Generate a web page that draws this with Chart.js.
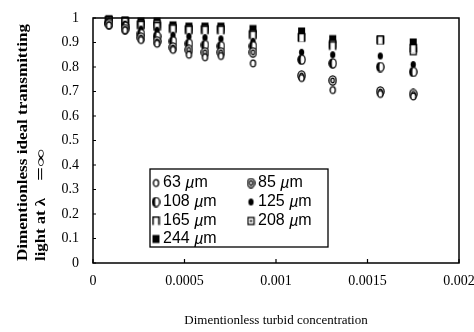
<!doctype html>
<html lang="en">
  <head>
    <meta charset="utf-8">
    <style>
      * { margin: 0; padding: 0; }
      body { background: #fff; }
      canvas { display: block; }
    </style>
  </head>
  <body>
    <canvas id="myChart" width="474" height="332"></canvas>
    <script src="https://cdn.jsdelivr.net/npm/chart.js/dist/chart.umd.min.js"></script>
    <script>
    // data
    const conc = [0.0000874, 0.000175, 0.000262, 0.00035, 0.000437, 0.000524, 0.000612,
                  0.000699, 0.000874, 0.00114, 0.00131, 0.00157, 0.00175];
    const s63  = [0.970, 0.950, 0.910, 0.895, 0.870, 0.850, 0.840, 0.845, 0.815, 0.755, 0.706, 0.690, 0.680];
    const s85  = [0.975, 0.955, 0.920, 0.905, 0.880, 0.870, 0.860, 0.860, 0.860, 0.765, 0.745, 0.700, 0.690];
    const s108 = [0.980, 0.965, 0.935, 0.925, 0.905, 0.895, 0.890, 0.885, 0.885, 0.830, 0.815, 0.800, 0.780];
    const s125 = [0.985, 0.975, 0.955, 0.950, 0.930, 0.925, 0.920, 0.915, 0.905, 0.860, 0.850, 0.845, 0.810];
    const s165 = [0.990, 0.985, 0.970, 0.965, 0.955, 0.950, 0.950, 0.950, 0.930, 0.920, 0.886, 0.910, 0.875];
    const s208 = [0.990, 0.985, 0.975, 0.975, 0.960, 0.955, 0.955, 0.955, 0.935, 0.920, 0.894, 0.910, 0.865];
    const s244 = [0.995, 0.990, 0.985, 0.985, 0.970, 0.965, 0.965, 0.965, 0.955, 0.945, 0.914, 0.910, 0.900];
    const sizes = ['63', '85', '108', '125', '165', '208', '244'];
    const series = [s63, s85, s108, s125, s165, s208, s244];
    const shapes = ['ring', 'target', 'half', 'dot', 'cap', 'boxdot', 'box'];

    // little marker images
    function makeMarker(kind) {
      const c = document.createElement('canvas');
      c.width = 9; c.height = 11;
      const g = c.getContext('2d');
      g.strokeStyle = '#000'; g.fillStyle = '#000'; g.lineWidth = 1.3;
      const cx = 4.5, cy = 5.5;
      if (kind === 'ring') {
        g.beginPath(); g.ellipse(cx, cy, 2.6, 3.4, 0, 0, Math.PI * 2);
        g.fillStyle = '#fff'; g.fill(); g.stroke();
      } else if (kind === 'target') {
        g.beginPath(); g.ellipse(cx, cy, 3.6, 4.6, 0, 0, Math.PI * 2);
        g.fillStyle = '#fff'; g.fill(); g.stroke();
        g.beginPath(); g.ellipse(cx, cy, 1.6, 2.3, 0, 0, Math.PI * 2); g.stroke();
      } else if (kind === 'half') {
        g.beginPath(); g.ellipse(cx, cy, 3.6, 4.6, 0, 0, Math.PI * 2);
        g.fillStyle = '#fff'; g.fill(); g.stroke();
        g.fillStyle = '#000';
        g.beginPath(); g.ellipse(cx, cy, 3.6, 4.6, 0, Math.PI * 0.5, Math.PI * 1.5);
        g.ellipse(cx + 0.5, cy, 1.4, 4.6, 0, Math.PI * 1.5, Math.PI * 0.5, true);
        g.fill();
      } else if (kind === 'dot') {
        g.beginPath(); g.ellipse(cx, cy, 2.6, 3.6, 0, 0, Math.PI * 2); g.fill();
      } else if (kind === 'cap') {
        g.fillStyle = '#fff'; g.fillRect(1.5, 1.5, 6, 8);
        g.beginPath(); g.moveTo(1.5, 9.5); g.lineTo(1.5, 1.5); g.lineTo(7.5, 1.5); g.lineTo(7.5, 9.5);
        g.lineWidth = 1.6; g.stroke();
      } else if (kind === 'boxdot') {
        g.fillStyle = '#fff'; g.fillRect(1.5, 2, 6, 7);
        g.strokeRect(1.5, 2, 6, 7);
        g.fillStyle = '#000'; g.fillRect(3.5, 4.5, 2, 2);
      } else {
        g.fillRect(1, 1.5, 7, 8);
      }
      return c;
    }
    const markers = shapes.map(makeMarker);

    const data = {
      datasets: series.map((s, i) => ({
        label: sizes[i] + ' \u00b5m',
        data: s.map((v, j) => ({ x: conc[j], y: v })),
        pointStyle: markers[i],
        pointRadius: 4,
        showLine: false,
        clip: false
      }))
    };

    // draw text along the rotated axis squeezed/stretched to a given length
    function fitText(ctx, text, x, y0, len) {
      const w = ctx.measureText(text).width;
      ctx.save();
      ctx.translate(x, y0);
      ctx.rotate(-Math.PI / 2);
      ctx.scale(len / w, 1);
      ctx.fillText(text, 0, 0);
      ctx.restore();
    }

    // frame, inward ticks, axis title, legend box
    const decor = {
      id: 'decor',
      afterDraw(chart) {
        const { ctx, chartArea: { top, bottom, left, right }, scales: { x, y } } = chart;
        ctx.save();
        ctx.strokeStyle = '#000';
        ctx.lineWidth = 1.5;
        ctx.strokeRect(left, top, right - left, bottom - top);
        ctx.lineWidth = 1.2;
        ctx.beginPath();
        y.ticks.forEach(t => {
          const py = y.getPixelForValue(t.value);
          ctx.moveTo(left, py); ctx.lineTo(left + 3, py);
        });
        x.ticks.forEach(t => {
          const px = x.getPixelForValue(t.value);
          ctx.moveTo(px, bottom); ctx.lineTo(px, bottom - 4);
        });
        ctx.stroke();

        // y title, two lines, rotated, starting near the bottom
        ctx.fillStyle = '#000';
        ctx.font = 'bold 14px "Liberation Serif", serif';
        ctx.textAlign = 'left';
        ctx.textBaseline = 'middle';
        fitText(ctx, 'Dimentionless ideal transmitting', 23, 261, 237);
        fitText(ctx, 'light at \u03bb', 41, 261, 63);
        fitText(ctx, '=\u221e', 41, 181, 32);

        // legend box
        const bx = 150, by = 169, bw = 178, bh = 78;
        ctx.fillStyle = '#fff';
        ctx.fillRect(bx, by, bw, bh);
        ctx.lineWidth = 1.3;
        ctx.strokeRect(bx, by, bw, bh);
        const rowsY = [183, 202, 221, 239];
        const colsX = [156, 251];
        chart.data.datasets.forEach((ds, i) => {
          const col = i < 6 ? i % 2 : 0;
          const row = Math.floor(i / 2);
          const mx = colsX[col], my = rowsY[row];
          ctx.drawImage(markers[i], mx - 4.5, my - 5.5);
          ctx.fillStyle = '#000';
          ctx.textBaseline = 'middle';
          ctx.font = '16px "Liberation Sans", Arial, sans-serif';
          const num = sizes[i] + ' ';
          ctx.fillText(num, mx + 7, my);
          const w = ctx.measureText(num).width;
          ctx.font = 'italic 16px "Liberation Sans", Arial, sans-serif';
          ctx.fillText('\u00b5', mx + 7 + w, my + 1);
          const w2 = ctx.measureText('\u00b5').width;
          ctx.font = '16px "Liberation Sans", Arial, sans-serif';
          ctx.fillText('m', mx + 7 + w + w2, my);
        });
        ctx.restore();
      }
    };

    const tickFont = { family: '"Liberation Serif", serif', size: 14 };
    const config = {
      type: 'scatter',
      data,
      options: {
        responsive: false,
        animation: false,
        layout: { padding: { top: 18, right: 15, left: 0, bottom: 0 } },
        scales: {
          x: {
            min: 0, max: 0.002,
            grid: { display: false, drawTicks: false },
            border: { display: false },
            ticks: {
              stepSize: 0.0005, color: '#000', font: tickFont, padding: 10, maxRotation: 0,
              callback: v => String(Math.round(v * 1e4) / 1e4)
            },
            title: {
              display: true, text: 'Dimentionless turbid concentration', color: '#000',
              font: { family: '"Liberation Serif", serif', size: 13 }, padding: { top: 22 }
            },
            afterFit(s) { s.height = 69; s.paddingLeft = 0; s.paddingRight = 0; }
          },
          y: {
            min: 0, max: 1,
            grid: { display: false, drawTicks: false },
            border: { display: false },
            ticks: {
              stepSize: 0.1, color: '#000', font: tickFont, padding: 14,
              callback: v => String(Math.round(v * 10) / 10)
            },
            afterFit(s) { s.width = 93; s.paddingTop = 0; s.paddingBottom = 0; }
          }
        },
        plugins: {
          legend: { display: false },
          tooltip: { enabled: false }
        }
      },
      plugins: [decor]
    };

    const myChart = new Chart(document.getElementById('myChart'), config);
    </script>
  </body>
</html>
